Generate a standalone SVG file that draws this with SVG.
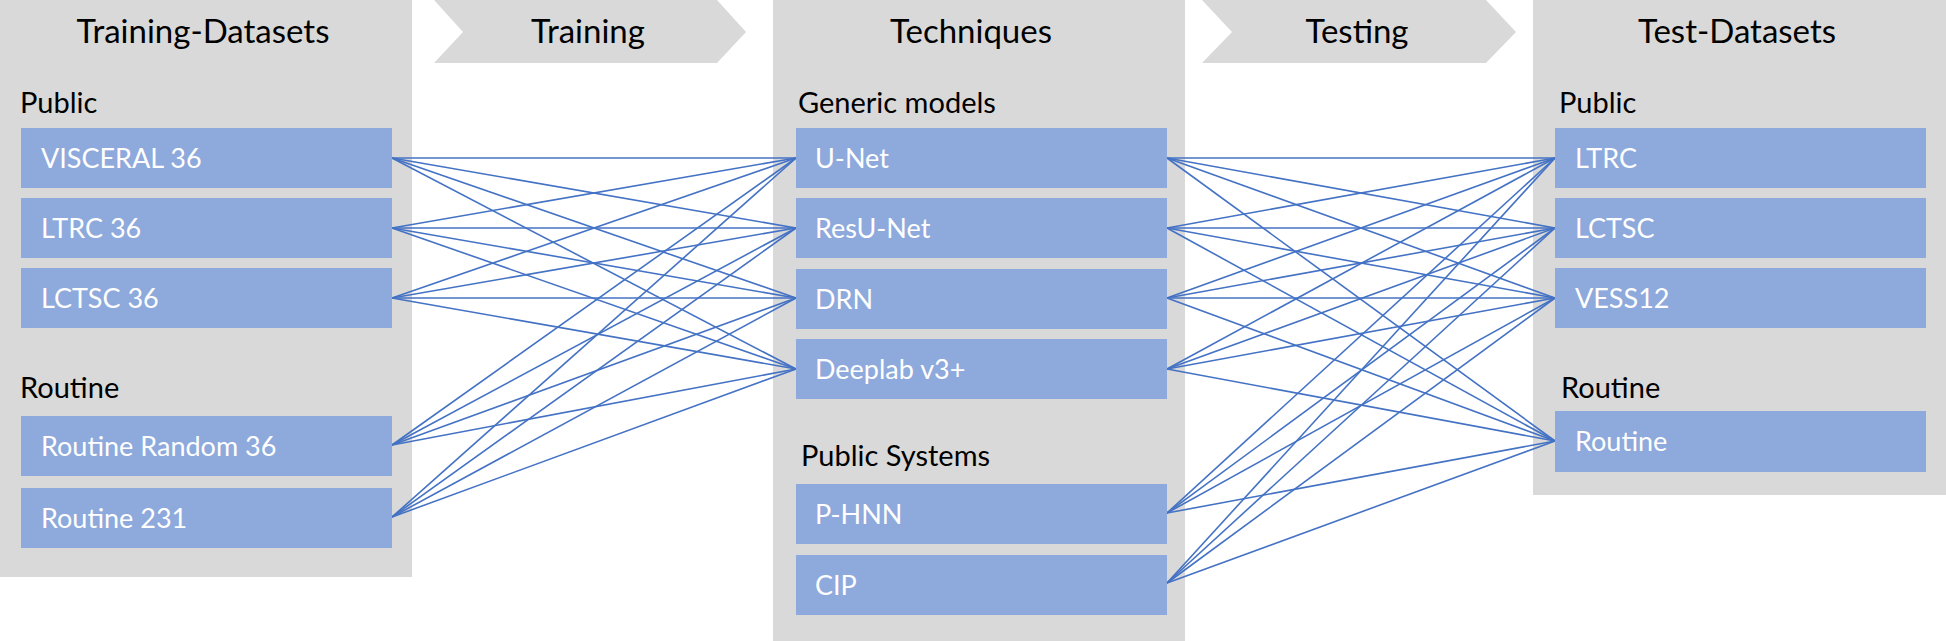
<svg xmlns="http://www.w3.org/2000/svg" width="1946" height="641" viewBox="0 0 1946 641">
<style>
.panel{fill:#D9D9D9}
.box{fill:#8EA9DB}
.title{font-family:Lato,"Liberation Sans",Arial,sans-serif;font-size:33px;fill:#000;text-anchor:middle}
.sub{font-family:Lato,"Liberation Sans",Arial,sans-serif;font-size:29px;fill:#000}
.lbl{font-family:Lato,"Liberation Sans",Arial,sans-serif;font-size:27px;fill:#fff}
.c line{stroke:#4472C4;stroke-width:1.6}
</style>
<rect width="1946" height="641" fill="#fff"/>
<g id="panels">
<rect class="panel" x="0" y="0" width="412" height="577"/>
<rect class="panel" x="773" y="0" width="412" height="641"/>
<rect class="panel" x="1533" y="0" width="413" height="495"/>
<polygon class="panel" points="434,0 717,0 746,32 717,63 434,63 463,32"/>
<polygon class="panel" points="1202,0 1486,0 1516,32 1486,63 1202,63 1232,32"/>
</g>
<g id="headings">
<text class="title" x="203" y="43">Training-Datasets</text>
<text class="title" x="588" y="43">Training</text>
<text class="title" x="971" y="43">Techniques</text>
<text class="title" x="1357" y="43">Testing</text>
<text class="title" x="1737" y="43">Test-Datasets</text>
<text class="sub" x="20" y="113">Public</text>
<text class="sub" x="20" y="398">Routine</text>
<text class="sub" x="798" y="113">Generic models</text>
<text class="sub" x="801" y="466">Public Systems</text>
<text class="sub" x="1559" y="113">Public</text>
<text class="sub" x="1561" y="398">Routine</text>
</g>
<g class="c" id="connectors">
<line x1="392" y1="158" x2="796" y2="158"/><line x1="392" y1="158" x2="796" y2="228"/><line x1="392" y1="158" x2="796" y2="298"/><line x1="392" y1="158" x2="796" y2="369"/>
<line x1="392" y1="228" x2="796" y2="158"/><line x1="392" y1="228" x2="796" y2="228"/><line x1="392" y1="228" x2="796" y2="298"/><line x1="392" y1="228" x2="796" y2="369"/>
<line x1="392" y1="298" x2="796" y2="158"/><line x1="392" y1="298" x2="796" y2="228"/><line x1="392" y1="298" x2="796" y2="298"/><line x1="392" y1="298" x2="796" y2="369"/>
<line x1="392" y1="445" x2="796" y2="158"/><line x1="392" y1="445" x2="796" y2="228"/><line x1="392" y1="445" x2="796" y2="298"/><line x1="392" y1="445" x2="796" y2="369"/>
<line x1="392" y1="517" x2="796" y2="158"/><line x1="392" y1="517" x2="796" y2="228"/><line x1="392" y1="517" x2="796" y2="298"/><line x1="392" y1="517" x2="796" y2="369"/>
<line x1="1167" y1="158" x2="1555" y2="158"/><line x1="1167" y1="158" x2="1555" y2="228"/><line x1="1167" y1="158" x2="1555" y2="298"/><line x1="1167" y1="158" x2="1555" y2="441"/>
<line x1="1167" y1="228" x2="1555" y2="158"/><line x1="1167" y1="228" x2="1555" y2="228"/><line x1="1167" y1="228" x2="1555" y2="298"/><line x1="1167" y1="228" x2="1555" y2="441"/>
<line x1="1167" y1="298" x2="1555" y2="158"/><line x1="1167" y1="298" x2="1555" y2="228"/><line x1="1167" y1="298" x2="1555" y2="298"/><line x1="1167" y1="298" x2="1555" y2="441"/>
<line x1="1167" y1="369" x2="1555" y2="158"/><line x1="1167" y1="369" x2="1555" y2="228"/><line x1="1167" y1="369" x2="1555" y2="298"/><line x1="1167" y1="369" x2="1555" y2="441"/>
<line x1="1167" y1="513" x2="1555" y2="158"/><line x1="1167" y1="513" x2="1555" y2="228"/><line x1="1167" y1="513" x2="1555" y2="298"/><line x1="1167" y1="513" x2="1555" y2="441"/>
<line x1="1167" y1="583" x2="1555" y2="158"/><line x1="1167" y1="583" x2="1555" y2="228"/><line x1="1167" y1="583" x2="1555" y2="298"/><line x1="1167" y1="583" x2="1555" y2="441"/>
</g>
<g id="n-visceral"><rect class="box" x="21" y="128" width="371" height="60"/><text class="lbl" x="41" y="168">VISCERAL 36</text></g>
<g id="n-ltrc36"><rect class="box" x="21" y="198" width="371" height="60"/><text class="lbl" x="41" y="238">LTRC 36</text></g>
<g id="n-lctsc36"><rect class="box" x="21" y="268" width="371" height="60"/><text class="lbl" x="41" y="308">LCTSC 36</text></g>
<g id="n-routine-random"><rect class="box" x="21" y="416" width="371" height="60"/><text class="lbl" x="41" y="456">Routine Random 36</text></g>
<g id="n-routine231"><rect class="box" x="21" y="488" width="371" height="60"/><text class="lbl" x="41" y="528">Routine 231</text></g>
<g id="n-unet"><rect class="box" x="796" y="128" width="371" height="60"/><text class="lbl" x="815" y="168">U-Net</text></g>
<g id="n-resunet"><rect class="box" x="796" y="198" width="371" height="60"/><text class="lbl" x="815" y="238">ResU-Net</text></g>
<g id="n-drn"><rect class="box" x="796" y="269" width="371" height="60"/><text class="lbl" x="815" y="309">DRN</text></g>
<g id="n-deeplab"><rect class="box" x="796" y="339" width="371" height="60"/><text class="lbl" x="815" y="379">Deeplab v3+</text></g>
<g id="n-phnn"><rect class="box" x="796" y="484" width="371" height="60"/><text class="lbl" x="815" y="524">P-HNN</text></g>
<g id="n-cip"><rect class="box" x="796" y="555" width="371" height="60"/><text class="lbl" x="815" y="595">CIP</text></g>
<g id="n-ltrc"><rect class="box" x="1555" y="128" width="371" height="60"/><text class="lbl" x="1575" y="168">LTRC</text></g>
<g id="n-lctsc"><rect class="box" x="1555" y="198" width="371" height="60"/><text class="lbl" x="1575" y="238">LCTSC</text></g>
<g id="n-vess12"><rect class="box" x="1555" y="268" width="371" height="60"/><text class="lbl" x="1575" y="308">VESS12</text></g>
<g id="n-routine"><rect class="box" x="1555" y="411" width="371" height="61"/><text class="lbl" x="1575" y="451">Routine</text></g>
</svg>
